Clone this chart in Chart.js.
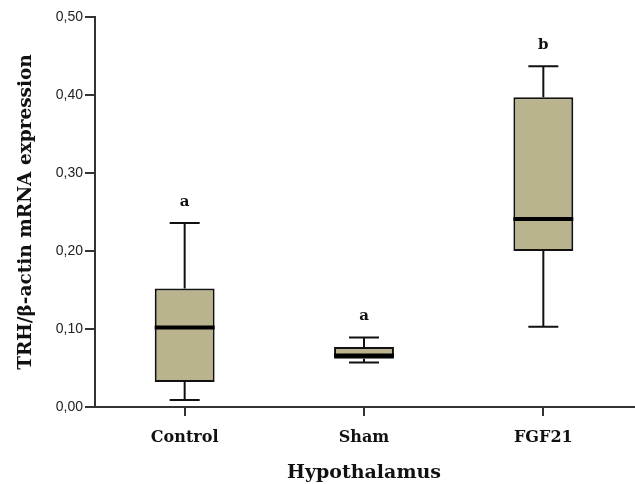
<!DOCTYPE html>
<html>
<head>
<meta charset="utf-8">
<script src="https://cdn.jsdelivr.net/npm/chart.js@4"></script>
<style>
  html, body { margin: 0; padding: 0; background: #fff; }
  #wrap { width: 635px; height: 484px; }
</style>
</head>
<body>
<div id="wrap"><canvas id="box"></canvas></div>
<script>
// groups and box statistics
const groups = ['Control', 'Sham', 'FGF21'];
const whiskerLow = [0.009, 0.057, 0.103];
const q1 = [0.032, 0.062, 0.200];
const median = [0.102, 0.066, 0.241];
const q3 = [0.152, 0.077, 0.397];
const whiskerHigh = [0.236, 0.089, 0.437];
const letters = ['a', 'a', 'b'];
const yTicks = [0, 0.1, 0.2, 0.3, 0.4, 0.5];

// whiskers, medians and significance letters drawn with the chart scales
const boxParts = {
  id: 'boxParts',
  beforeDatasetsDraw(chart) {
    const { ctx } = chart;
    const x = chart.scales.x, y = chart.scales.y;
    ctx.save();
    ctx.strokeStyle = '#111';
    ctx.lineWidth = 2;
    groups.forEach((g, i) => {
      const cx = x.getPixelForValue(i);
      const cap = 15;
      ctx.beginPath();
      ctx.moveTo(cx, y.getPixelForValue(whiskerLow[i]));
      ctx.lineTo(cx, y.getPixelForValue(q1[i]));
      ctx.moveTo(cx, y.getPixelForValue(q3[i]));
      ctx.lineTo(cx, y.getPixelForValue(whiskerHigh[i]));
      ctx.moveTo(cx - cap, y.getPixelForValue(whiskerLow[i]));
      ctx.lineTo(cx + cap, y.getPixelForValue(whiskerLow[i]));
      ctx.moveTo(cx - cap, y.getPixelForValue(whiskerHigh[i]));
      ctx.lineTo(cx + cap, y.getPixelForValue(whiskerHigh[i]));
      ctx.stroke();
    });
    ctx.restore();
  },
  afterDatasetsDraw(chart) {
    const { ctx } = chart;
    const x = chart.scales.x, y = chart.scales.y;
    const meta = chart.getDatasetMeta(0);
    ctx.save();
    groups.forEach((g, i) => {
      const bar = meta.data[i];
      const half = bar.width / 2;
      const my = y.getPixelForValue(median[i]);
      ctx.strokeStyle = '#000';
      ctx.lineWidth = 4;
      ctx.beginPath();
      ctx.moveTo(bar.x - half, my);
      ctx.lineTo(bar.x + half, my);
      ctx.stroke();
      ctx.fillStyle = '#111';
      ctx.font = 'bold 15px "DejaVu Serif"';
      ctx.textAlign = 'center';
      ctx.textBaseline = 'middle';
      ctx.fillText(letters[i], x.getPixelForValue(i), y.getPixelForValue(whiskerHigh[i]) - 21);
    });
    // x axis line runs to the right edge
    ctx.strokeStyle = '#333';
    ctx.lineWidth = 2;
    ctx.beginPath();
    ctx.moveTo(chart.chartArea.left, y.getPixelForValue(0));
    ctx.lineTo(chart.width, y.getPixelForValue(0));
    ctx.stroke();
    ctx.restore();
  }
};

const cfg = {
  type: 'bar',
  data: {
    labels: groups,
    datasets: [{
      data: groups.map((g, i) => [q1[i], q3[i]]),
      backgroundColor: '#bab48e',
      borderColor: '#111',
      borderWidth: 2,
      borderSkipped: false,
      categoryPercentage: 1,
      barPercentage: 0.334
    }]
  },
  options: {
    responsive: true,
    maintainAspectRatio: false,
    animation: false,
    layout: { padding: { top: 17, right: 2, left: 0, bottom: 0 } },
    plugins: { legend: { display: false }, tooltip: { enabled: false } },
    scales: {
      x: {
        grid: { display: true, drawOnChartArea: false, offset: false, tickLength: 9, color: '#333', lineWidth: 2 },
        border: { display: true, color: '#333', width: 2 },
        ticks: { color: '#111', padding: 12, font: { family: 'DejaVu Serif', size: 16, weight: 'bold' } },
        title: { display: true, text: 'Hypothalamus', color: '#111', padding: { top: 8, bottom: 0 },
                 font: { family: 'DejaVu Serif', size: 19, weight: 'bold' } },
        afterFit(s) { s.height = 77; }
      },
      y: {
        min: 0, max: 0.5,
        afterBuildTicks(s) { s.ticks = yTicks.map(v => ({ value: v })); },
        grid: { display: true, drawOnChartArea: false, tickLength: 10, color: '#333', lineWidth: 2 },
        border: { display: true, color: '#333', width: 2 },
        ticks: { color: '#222', padding: 2, font: { family: 'Liberation Sans', size: 14 },
                 callback: v => v.toFixed(2).replace('.', ',') },
        title: { display: true, text: 'TRH/β-actin mRNA expression', color: '#111', padding: { top: 15, bottom: 0 },
                 font: { family: 'DejaVu Serif', size: 18.5, weight: 'bold' } },
        afterFit(s) { s.width = 95; }
      }
    }
  },
  plugins: [boxParts]
};

new Chart(document.getElementById('box'), cfg);
</script>
</body>
</html>
